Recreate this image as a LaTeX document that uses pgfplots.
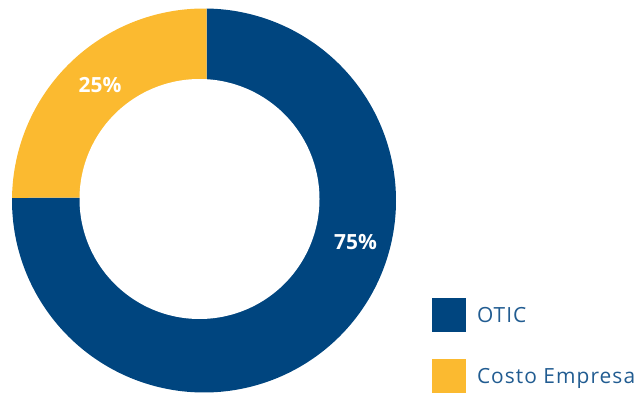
\documentclass[border=0pt]{standalone}
\usepackage{pgfplots}
\usepackage{pgfplotstable}
\pgfplotsset{compat=1.18}
\usepackage{fontspec}
\setmainfont{Open Sans}
\newfontfamily\legfont[LetterSpace=5]{Open Sans}
\definecolor{otic}{HTML}{00457F}
\definecolor{costo}{HTML}{FBBA30}
\definecolor{legtext}{HTML}{215C91}

\pgfplotstableread{
label value
OTIC 75
Costo 25
}\datatable

\begin{document}
\begin{tikzpicture}
\pgfplotstablegetelem{0}{value}\of\datatable \pgfmathsetmacro\va{\pgfplotsretval}
\pgfplotstablegetelem{1}{value}\of\datatable \pgfmathsetmacro\vb{\pgfplotsretval}
\pgfmathsetmacro\tot{\va+\vb}
\pgfmathsetmacro\sa{89.2}
\pgfmathsetmacro\sb{\sa+\vb/\tot*360}
\pgfmathsetmacro\sc{\sa-\va/\tot*360}
\begin{axis}[
  width=637bp, height=393bp, scale only axis,
  xmin=0, xmax=637, ymin=0, ymax=393,
  hide axis, clip=false,
  legend style={at={(axis cs:432,95)}, anchor=north west, draw=none, fill=none,
    inner sep=0pt, outer sep=0pt, row sep=27bp, font=\legfont\fontsize{21}{25}\selectfont,
    text=legtext, cells={anchor=base west}, nodes={inner sep=0pt}},
  legend cell align=left,
  legend image code/.code={\fill[#1] (0bp,-16bp) rectangle (34bp,18bp); \path (45bp,0bp);},
]
\path (axis cs:0,0) rectangle (axis cs:637,393);
\addplot[fill=otic, draw=none, domain=\sc:\sa, samples=300]
  ({204+192*cos(x)},{192.5+192*sin(x)}) -- (axis cs:206.5,196) -- cycle;
\addlegendentry{OTIC}
\addplot[fill=costo, draw=none, domain=\sa:\sb, samples=120]
  ({204+192*cos(x)},{192.5+192*sin(x)}) -- (axis cs:206.5,196) -- cycle;
\addlegendentry{Costo Empresa}
\addplot[fill=white, draw=none, domain=0:360, samples=300, forget plot]
  ({199.5+120*cos(x)},{194+120*sin(x)}) -- cycle;
\node[text=white, inner sep=0pt, font=\bfseries\fontsize{21}{25}\selectfont] at (axis cs:100,308) {\pgfmathprintnumber[assume math mode=true]{\vb}\%};
\node[text=white, inner sep=0pt, font=\bfseries\fontsize{21}{25}\selectfont] at (axis cs:355.5,150.5) {\pgfmathprintnumber[assume math mode=true]{\va}\%};
\end{axis}
\end{tikzpicture}
\end{document}
